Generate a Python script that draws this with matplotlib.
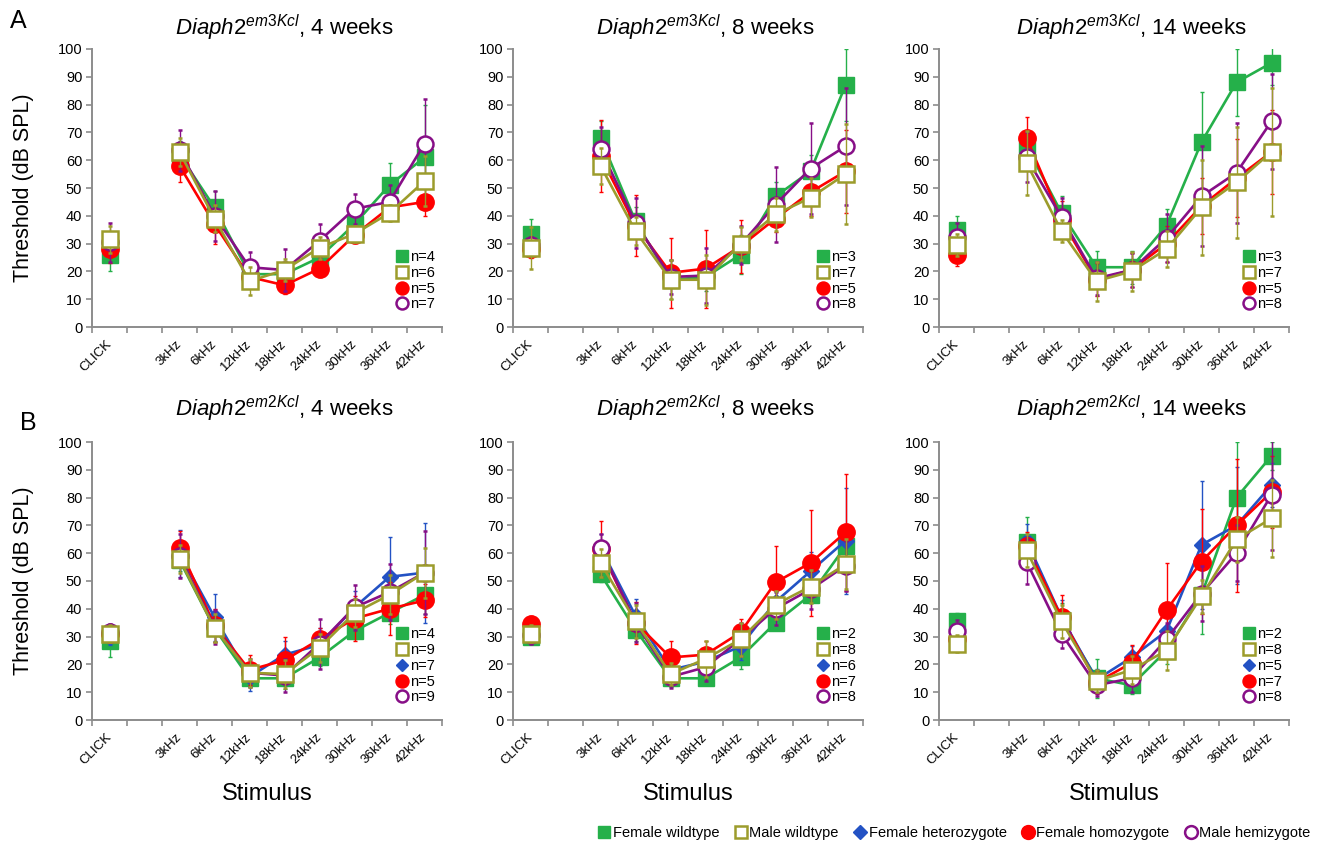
import numpy as np
import matplotlib
matplotlib.use('Agg')
import matplotlib.pyplot as plt
from matplotlib.lines import Line2D

plt.rcParams['font.family'] = ['Liberation Sans', 'DejaVu Sans']
plt.rcParams['mathtext.fontset'] = 'custom'
plt.rcParams['mathtext.rm'] = 'Liberation Sans'
plt.rcParams['mathtext.it'] = 'Liberation Sans:italic'
plt.rcParams['mathtext.bf'] = 'Liberation Sans:bold'

nan = np.nan

stimuli = ['CLICK', '', '3kHz', '6kHz', '12kHz', '18kHz', '24kHz', '30kHz', '36kHz', '42kHz']
groups = ['Female wildtype', 'Male wildtype', 'Female heterozygote', 'Female homozygote', 'Male hemizygote']

### Diaph2 em3Kcl, 4 weeks (no heterozygotes)
em3_4w_mean = [[26, nan, 62, 43, 19, 19, 25, 37, 51, 61],
               [31.5, nan, 63, 39, 16.5, 20.5, 28.5, 33.5, 41, 52.5],
               None,
               [28, nan, 58, 37, 18, 15, 21, 33, 43, 45],
               [30.5, nan, 63.5, 40, 21.5, 20.5, 31, 42.5, 45, 66]]
em3_4w_err = [[6, nan, 5, 6, 3, 3, 3, 4, 8, 19],
              [5, nan, 5, 5, 5, 4, 4, 3, 3, 9],
              None,
              [5, nan, 6, 7, 3, 3, 3, 2, 3, 5],
              [7, nan, 7.5, 9, 5.5, 7.5, 6, 5.5, 6, 16]]
em3_4w_n = [4, 6, None, 5, 7]

### Diaph2 em3Kcl, 8 weeks
em3_8w_mean = [[33.5, nan, 68, 38, 17, 18, 26, 47, 56, 87],
               [28.5, nan, 58, 34.5, 17, 17, 30, 40.5, 46.5, 55],
               None,
               [28, nan, 61.5, 36.5, 19.5, 21, 29, 39, 48.5, 56],
               [29.5, nan, 64, 37.5, 18, 18.5, 29.5, 44, 57, 65]]
em3_8w_err = [[5.5, nan, 6, 5, 7, 5, 7, 5, 6, 13],
              [7.5, nan, 6.5, 5, 7, 9, 6, 6, 7, 18],
              None,
              [3, nan, 13, 11, 12.5, 14, 9.5, 5, 8.5, 15],
              [3, nan, 8, 9, 6, 10, 7, 13.5, 16.5, 21]]
em3_8w_n = [3, 7, None, 5, 8]

### Diaph2 em3Kcl, 14 weeks
em3_14w_mean = [[35, nan, 65, 41, 21.5, 21.5, 36.5, 66.5, 88, 95],
                [29.5, nan, 59, 34.5, 16.5, 20, 28, 43, 52, 63],
                None,
                [26, nan, 68, 38.5, 17, 20.5, 30, 43.5, 53.5, 63],
                [32.5, nan, 61, 39.5, 17.5, 20.5, 32, 47, 55.5, 74]]
em3_14w_err = [[5, nan, 5, 6, 6, 6, 6, 18, 12, 8],
               [4, nan, 11.5, 4, 7, 7, 6.5, 17, 20, 23],
               None,
               [4, nan, 7.5, 7, 6, 6, 6.5, 10, 14, 15],
               [5, nan, 9, 7, 6, 6, 8.5, 18, 18, 17]]
em3_14w_n = [3, 7, None, 5, 8]

### Diaph2 em2Kcl, 4 weeks
em2_4w_mean = [[28.5, nan, 57.5, 33, 15, 15, 22.5, 32, 38.5, 45],
               [31, nan, 58, 33, 17, 16.5, 26, 38.5, 45, 53],
               [30, nan, 60, 37, 15.5, 23.5, 27, 40.5, 51.5, 53],
               [31, nan, 62, 34, 18, 21.5, 29, 36.5, 40, 43],
               [31.5, nan, 59, 33.5, 17, 16, 27.5, 40.5, 46, 53]]
em2_4w_err = [[6, nan, 4, 5, 3, 4, 3, 3, 4, 7],
              [3, nan, 5, 5, 5, 5, 5, 5, 7, 9],
              [3, nan, 8.5, 8.5, 5, 5, 6, 6, 14.5, 18],
              [3, nan, 6, 6, 5.5, 8.5, 4, 8, 9.5, 6],
              [3, nan, 8, 6, 5, 6, 9, 8, 10, 15]]
em2_4w_n = [4, 9, 7, 5, 9]

### Diaph2 em2Kcl, 8 weeks
em2_8w_mean = [[30, nan, 52.5, 32.5, 15, 15, 22.5, 35, 45, 62.5],
               [31, nan, 56.5, 35.5, 16.5, 22, 29, 41.5, 48, 56],
               [30.5, nan, 62, 37.5, 18, 21, 26.5, 42.5, 53.5, 64.5],
               [34.5, nan, 61.5, 35, 22.5, 23.5, 31.5, 49.5, 56.5, 67.5],
               [30.5, nan, 62, 35, 15.5, 19, 29, 40, 47, 55.5]]
em2_8w_err = [[2, nan, 3, 4, 3, 0, 4, 2, 3, 5],
              [3, nan, 5, 6, 4, 6.5, 6, 5, 6, 9],
              [3, nan, 5, 6, 4, 4, 5, 4, 7, 19],
              [3, nan, 10, 7.5, 6, 5, 5, 13, 19, 21],
              [3, nan, 5, 7, 4, 5, 6, 6, 7, 9]]
em2_8w_n = [2, 8, 6, 7, 8]

### Diaph2 em2Kcl, 14 weeks
em2_14w_mean = [[35.5, nan, 64, 36, 15, 12.5, 25, 45, 80, 95],
                [27.5, nan, 61, 35.5, 14, 18, 25, 44.5, 65, 72.5],
                [30, nan, 64.5, 37, 14.5, 22.5, 32, 63, 70, 84.5],
                [29, nan, 62.5, 37, 13.5, 20.5, 39.5, 57, 70, 82],
                [32, nan, 57, 31, 12.5, 15, 29, 45.5, 60, 81]]
em2_14w_err = [[3, nan, 9, 6, 7, 3, 5, 14, 20, 5],
               [3, nan, 6, 6, 4, 5, 7, 6, 8, 14],
               [3, nan, 6, 6, 4, 4, 7, 23, 21, 8],
               [4, nan, 5, 8, 4, 6.5, 17, 19, 24, 13],
               [4, nan, 8, 5, 4, 5, 6, 10, 10, 20]]
em2_14w_n = [2, 8, 5, 7, 8]

# style per group
colors = ['#25b04a', '#9c9c2c', '#2352c4', '#ff0000', '#870f87']
markers = ['s', 's', 'D', 'o', 'o']
filled = [True, False, True, True, False]
msizes = [11.5, 11, 8.5, 12.5, 11.5]
layer = [3, 7, 4, 5, 6]


def marker_kw(i, scale=1.0):
	face = colors[i] if filled[i] else 'white'
	return dict(marker=markers[i], color=colors[i], mfc=face, mec=colors[i],
				ms=msizes[i]*scale, mew=1.8 if not filled[i] else 1.0)


def panel(ax, title, means, errs, ns, title_y, first_col, bottom_row):
	x = np.arange(len(stimuli))
	handles, labels = [], []
	for i in range(len(groups)):
		if means[i] is None:
			continue
		ax.errorbar(x, np.array(means[i], dtype=float), yerr=np.array(errs[i], dtype=float),
					lw=1.9, elinewidth=1.0, capsize=1.5, capthick=1.0, ecolor=colors[i],
					zorder=layer[i], **marker_kw(i))
		handles.append(Line2D([], [], ls='none', **marker_kw(i, 0.75)))
		labels.append('n=%d' % ns[i])

	ax.set_xlim(-0.5, len(stimuli)-0.5)
	ax.set_ylim(0, 100)
	ax.set_yticks(range(0, 101, 10))
	ax.set_xticks(np.arange(-0.5, len(stimuli), 1))
	ax.set_xticklabels([])
	ax.set_xticks(x, minor=True)
	ax.set_xticklabels(stimuli, minor=True, rotation=45, ha='right', va='center', rotation_mode='anchor')
	ax.tick_params(axis='x', which='major', length=4, width=1.2, color='#8c8c8c', direction='out')
	ax.tick_params(axis='x', which='minor', length=0, pad=11, labelsize=9.5)
	ax.tick_params(axis='y', length=4, width=1.2, color='#8c8c8c', labelsize=10.5, pad=3)
	for s in ['top', 'right']:
		ax.spines[s].set_visible(False)
	for s in ['left', 'bottom']:
		ax.spines[s].set_color('#8c8c8c')
		ax.spines[s].set_linewidth(1.4)

	ax.text(0.55, title_y, title, transform=ax.transAxes, ha='center', va='baseline', fontsize=16)
	ax.legend(handles, labels, loc='lower right', bbox_to_anchor=(1.0, 0.03), frameon=False,
			  fontsize=10.5, labelspacing=0.12, handletextpad=0.05, handlelength=1.0, borderpad=0)
	if first_col:
		ax.set_ylabel('Threshold (dB SPL)', fontsize=15.5)
		ax.yaxis.set_label_coords(-0.165, 0.5)
	if bottom_row:
		ax.set_xlabel('Stimulus', fontsize=17)
		ax.xaxis.set_label_coords(0.5, -0.225)


fig = plt.figure(figsize=(13.31, 8.47), dpi=100)
W, H = 1331., 847.
lefts = [92, 513, 939]
tops = [49, 442]
aw, ah = 350, 278

titles = [r'$\mathit{Diaph2}^{\mathit{em3Kcl}}$, 4 weeks', r'$\mathit{Diaph2}^{\mathit{em3Kcl}}$, 8 weeks',
		  r'$\mathit{Diaph2}^{\mathit{em3Kcl}}$, 14 weeks', r'$\mathit{Diaph2}^{\mathit{em2Kcl}}$, 4 weeks',
		  r'$\mathit{Diaph2}^{\mathit{em2Kcl}}$, 8 weeks', r'$\mathit{Diaph2}^{\mathit{em2Kcl}}$, 14 weeks']
allMeans = [em3_4w_mean, em3_8w_mean, em3_14w_mean, em2_4w_mean, em2_8w_mean, em2_14w_mean]
allErrs = [em3_4w_err, em3_8w_err, em3_14w_err, em2_4w_err, em2_8w_err, em2_14w_err]
allNs = [em3_4w_n, em3_8w_n, em3_14w_n, em2_4w_n, em2_8w_n, em2_14w_n]

for k in range(6):
	r, c = divmod(k, 3)
	ax = fig.add_axes([lefts[c]/W, 1-(tops[r]+ah)/H, aw/W, ah/H])
	panel(ax, titles[k], allMeans[k], allErrs[k], allNs[k], 1.05 if r == 0 else 1.094, c == 0, r == 1)

fig.text(10/W, 1-28/H, 'A', fontsize=18, va='baseline')
fig.text(20/W, 1-430/H, 'B', fontsize=18, va='baseline')

legHandles = [Line2D([], [], ls='none', **marker_kw(i, 0.8)) for i in range(len(groups))]
fig.legend(legHandles, groups, loc='center right', bbox_to_anchor=(1318/W, 1-833/H), ncol=5,
		   frameon=False, fontsize=10.5, handlelength=0.9, handletextpad=0.15, columnspacing=1.0, borderpad=0)

plt.savefig('out.png', dpi=100)
